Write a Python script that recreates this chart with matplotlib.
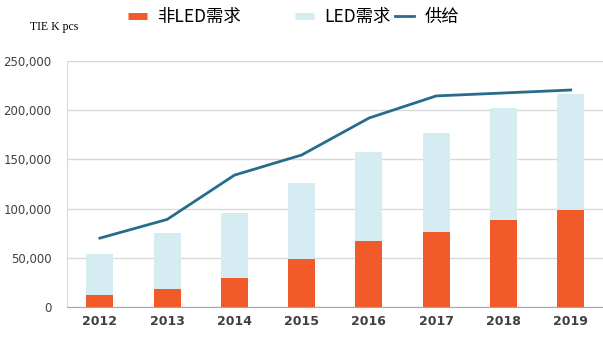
import numpy as np
import matplotlib.pyplot as plt
from matplotlib.lines import Line2D

plt.rcParams['font.family'] = ['Noto Sans CJK SC', 'DejaVu Sans']

years = ['2012', '2013', '2014', '2015', '2016', '2017', '2018', '2019']
non_led = [12000, 18000, 29500, 48500, 67000, 76000, 88500, 98500]
led = [42000, 57000, 66000, 77500, 90500, 101000, 113500, 118000]
supply = [70000, 89000, 134000, 154500, 192000, 214500, 217500, 220500]

fig = plt.figure(figsize=(6.03, 3.37), dpi=100)
ax = fig.add_axes([0.111, 0.089, 0.889, 0.730])

x = np.arange(len(years))
ax.bar(x, non_led, width=0.4, color='#F15A29', zorder=2)
ax.bar(x, led, width=0.4, bottom=non_led, color='#D6ECF3', zorder=2)
ax.plot(x, supply, color='#286C8C', lw=2, zorder=3)

ax.set_xlim(-0.49, 7.48)
ax.set_ylim(0, 250000)
ax.set_yticks(range(0, 250001, 50000))
ax.set_yticklabels([f'{v:,}' for v in range(0, 250001, 50000)], fontsize=8.5,
                   color='#404040', family='DejaVu Sans')
ax.set_xticks(x)
ax.set_xticklabels(years, fontsize=9, color='#404040', fontweight='bold',
                   family='DejaVu Sans')
ax.grid(axis='y', color='#D9D9D9', lw=1, zorder=0)
ax.tick_params(axis='y', length=0, pad=11)
ax.tick_params(axis='x', length=0, pad=6)
for s in ['top', 'right']:
    ax.spines[s].set_visible(False)
ax.spines['left'].set_color('#D9D9D9')
ax.spines['bottom'].set_color('#A6A6A6')

# legend entries placed one by one, as in the source layout
items = [(Line2D([], [], color='#F15A29', lw=5, solid_capstyle='butt'), '非LED需求', 128),
         (Line2D([], [], color='#D6ECF3', lw=5, solid_capstyle='butt'), 'LED需求', 295),
         (Line2D([], [], color='#286C8C', lw=2), '供给', 395)]
for h, lab, px in items:
    lg = fig.legend([h], [lab], loc='center left',
                    bbox_to_anchor=(px / 603, 1 - 17 / 337), frameon=False,
                    fontsize=12.5, handlelength=1.1,
                    handletextpad=0.6, borderpad=0, borderaxespad=0)
fig.text(30 / 603, 1 - 30 / 337, 'TIE K pcs', fontsize=8.5,
         family='Liberation Serif')

fig.savefig('out.png', dpi=100)
